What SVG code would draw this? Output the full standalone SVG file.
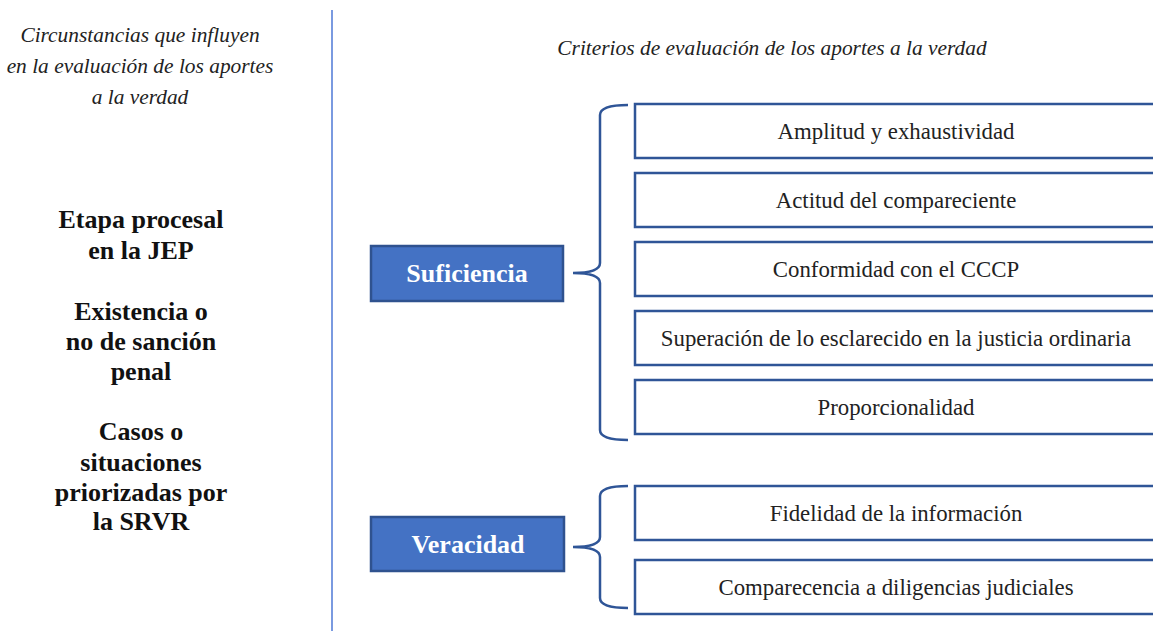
<svg xmlns="http://www.w3.org/2000/svg" width="1153" height="631" viewBox="0 0 1153 631">
<style>
.it{font-family:"Liberation Serif","Times New Roman",serif;font-style:italic;font-size:21.4px;fill:#222;text-anchor:middle}
.lb{font-family:"Liberation Serif","Times New Roman",serif;font-weight:bold;font-size:26px;fill:#111;text-anchor:middle}
.crit{fill:#fff;stroke:#2f5597;stroke-width:2.5}
.ct{font-family:"Liberation Serif","Times New Roman",serif;font-size:22.8px;fill:#222;text-anchor:middle}
.cat{fill:#4472c4;stroke:#2f528f;stroke-width:2.5}
.catt{font-family:"Liberation Serif","Times New Roman",serif;font-weight:bold;font-size:26px;fill:#fff;text-anchor:middle}
.brace{fill:none;stroke:#2f5597;stroke-width:2.5}
</style>
<rect width="1153" height="631" fill="#fff"/>
<line x1="332" y1="10" x2="332" y2="631" stroke="#7a9ae0" stroke-width="2"/>
<g id="left-title">
<text class="it" x="140" y="42">Circunstancias que influyen</text>
<text class="it" x="140" y="73">en la evaluación de los aportes</text>
<text class="it" x="140" y="104">a la verdad</text>
</g>
<g id="left-factors">
<text class="lb" x="141" y="228">Etapa procesal</text>
<text class="lb" x="141" y="259">en la JEP</text>
<text class="lb" x="141" y="320">Existencia o</text>
<text class="lb" x="141" y="350">no de sanción</text>
<text class="lb" x="141" y="380">penal</text>
<text class="lb" x="141" y="440">Casos o</text>
<text class="lb" x="141" y="471">situaciones</text>
<text class="lb" x="141" y="501">priorizadas por</text>
<text class="lb" x="141" y="530">la SRVR</text>
</g>
<g id="right-title">
<text class="it" x="772" y="55">Criterios de evaluación de los aportes a la verdad</text>
</g>
<g id="suficiencia">
<rect class="cat" x="371" y="246" width="192" height="55"/>
<text class="catt" x="467" y="282">Suficiencia</text>
</g>
<g id="veracidad">
<rect class="cat" x="371" y="517" width="193" height="54"/>
<text class="catt" x="468" y="553">Veracidad</text>
</g>
<g id="c1"><rect class="crit" x="635" y="104" width="530" height="54"/><text class="ct" x="896" y="139">Amplitud y exhaustividad</text></g>
<g id="c2"><rect class="crit" x="635" y="173" width="530" height="54"/><text class="ct" x="896" y="208">Actitud del compareciente</text></g>
<g id="c3"><rect class="crit" x="635" y="242" width="530" height="54"/><text class="ct" x="896" y="277">Conformidad con el CCCP</text></g>
<g id="c4"><rect class="crit" x="635" y="311" width="530" height="54"/><text class="ct" x="896" y="346">Superación de lo esclarecido en la justicia ordinaria</text></g>
<g id="c5"><rect class="crit" x="635" y="380" width="530" height="54"/><text class="ct" x="896" y="415">Proporcionalidad</text></g>
<g id="c6"><rect class="crit" x="635" y="486" width="530" height="54"/><text class="ct" x="896" y="521">Fidelidad de la información</text></g>
<g id="c7"><rect class="crit" x="635" y="560" width="530" height="54"/><text class="ct" x="896" y="595">Comparecencia a diligencias judiciales</text></g>
<g id="connectors">
<path class="brace" d="M628,105 Q600,105 600,115 L600,263 Q600,273 573,273 Q600,273 600,283 L600,430 Q600,440 628,440"/>
<path class="brace" d="M628,486 Q600,486 600,496 L600,537 Q600,547 573,547 Q600,547 600,557 L600,598 Q600,608 628,608"/>
</g>
</svg>
